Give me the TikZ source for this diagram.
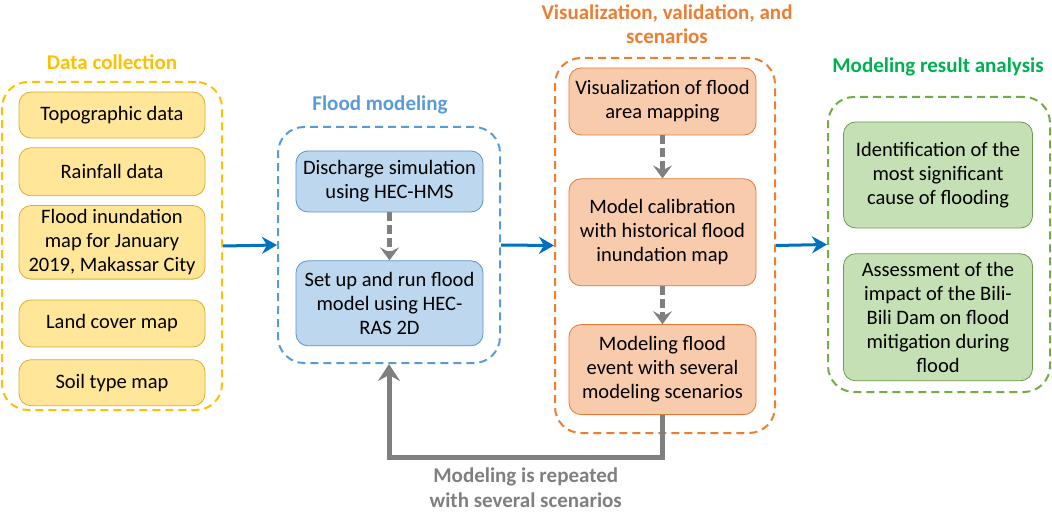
\documentclass[tikz,border=0pt]{standalone}
\usepackage{fontspec}
\setmainfont{Carlito}
\usetikzlibrary{positioning,arrows.meta}
\definecolor{goldline}{HTML}{FFC000}
\definecolor{datafill}{HTML}{FFE699}
\definecolor{dataline}{HTML}{D9AE2E}
\definecolor{bluetitle}{HTML}{5B9BD5}
\definecolor{modfill}{HTML}{BDD7EE}
\definecolor{modline}{HTML}{5B93CC}
\definecolor{orangeline}{HTML}{ED7D31}
\definecolor{visfill}{HTML}{F8CBAD}
\definecolor{visline}{HTML}{E07B39}
\definecolor{greentitle}{HTML}{00B050}
\definecolor{greenline}{HTML}{70AD47}
\definecolor{resfill}{HTML}{C5E0B4}
\definecolor{resline}{HTML}{6E9A4E}
\definecolor{flowblue}{HTML}{0070C0}
\definecolor{loopgray}{HTML}{7F7F7F}
\tikzstyle{block} = [ rectangle, draw, line width=0.8pt, rounded corners=12pt, align=center, inner sep=4pt, font=\fontsize{20.5}{24}\selectfont]
\tikzstyle{datablock} = [ block, fill=datafill, draw=dataline, minimum width=186pt]
\tikzstyle{modblock} = [ block, fill=modfill, draw=modline, minimum width=187pt]
\tikzstyle{visblock} = [ block, fill=visfill, draw=visline, minimum width=187pt]
\tikzstyle{resblock} = [ block, fill=resfill, draw=resline, minimum width=189pt]
\tikzstyle{group} = [ rectangle, draw, line width=2pt, rounded corners=26pt, dash pattern=on 8pt off 5pt]
\tikzstyle{title} = [ font=\bfseries\fontsize{21}{24.5}\selectfont, align=center]
\tikzstyle{line} = [ draw, line width=3pt, flowblue, -{Stealth[length=15pt,width=17pt]}]
\tikzstyle{substep} = [ draw, line width=5pt, loopgray, dash pattern=on 9pt off 4pt, -{Stealth[length=13pt,width=19pt,inset=5pt]}]
\tikzstyle{repeat} = [ draw, line width=5pt, loopgray, -{Stealth[length=17pt,width=22pt,inset=6pt]}]

\begin{document}
\begin{tikzpicture}[x=1pt, y=1pt]
  \useasboundingbox (0,0) rectangle (1052,-513);

  % groups
  \node [group, draw=goldline, minimum width=220pt, minimum height=328pt] (dc) at (112,-246) {};
  \node [group, draw=bluetitle, minimum width=222pt, minimum height=236pt] (fm) at (389,-245) {};
  \node [group, draw=orangeline, minimum width=220pt, minimum height=375pt] (vv) at (665,-245.5) {};
  \node [group, draw=greenline, minimum width=222pt, minimum height=295pt] (mr) at (939,-244.5) {};

  \node [title, text=goldline] (dc_title) at (112,-62) {Data collection};
  \node [title, text=bluetitle] (fm_title) at (380,-105) {Flood modeling};
  \node [title, text=orangeline] (vv_title) at (667,-24) {Visualization, validation, and\\scenarios};
  \node [title, text=greentitle] (mr_title) at (938,-67) {Modeling result analysis};

  % data collection
  \node [datablock, minimum height=46pt] (topo) at (112,-115) {Topographic data};
  \node [datablock, minimum height=48pt, below=9pt of topo] (rain) {Rainfall data};
  \node [datablock, minimum height=68pt, below=9pt of rain] (inund) {Flood inundation\\map for January\\2019, Makassar City};
  \node [datablock, minimum height=47pt, below=20pt of inund] (land) {Land cover map};
  \node [datablock, minimum height=46pt, below=12pt of land] (soil) {Soil type map};

  % flood modeling
  \node [modblock, minimum height=61pt] (disch) at (389.5,-181.5) {Discharge simulation\\using HEC-HMS};
  \node [modblock, minimum height=85pt, below=48pt of disch] (setup) {Set up and run flood\\model using HEC-\\RAS 2D};

  % visualization
  \node [visblock, minimum height=67pt] (vis) at (662.5,-101.5) {Visualization of flood\\area mapping};
  \node [visblock, minimum height=107pt, below=43pt of vis] (calib) {Model calibration\\with historical flood\\inundation map};
  \node [visblock, minimum height=90pt, below=38pt of calib] (event) {Modeling flood\\event with several\\modeling scenarios};

  % results
  \node [resblock, minimum height=106pt] (ident) at (938,-175) {Identification of the\\most significant\\cause of flooding};
  \node [resblock, minimum height=127pt, below=25pt of ident] (assess) {Assessment of the\\impact of the Bili-\\Bili Dam on flood\\mitigation during\\flood};

  \path [line] (dc.east) -- (fm.west);
  \path [line] (fm.east) -- (vv.west);
  \path [line] (vv.east) -- (mr.west);

  \path [substep] (disch) -- (setup);
  \path [substep] (vis) -- (calib);
  \path [substep] (calib) -- (event);

  \path [repeat] (event.south) -- ++(0,-42) -| node [pos=0.25, below=5pt, title, text=loopgray] {Modeling is repeated\\with several scenarios} (fm.south);
\end{tikzpicture}
\end{document}
